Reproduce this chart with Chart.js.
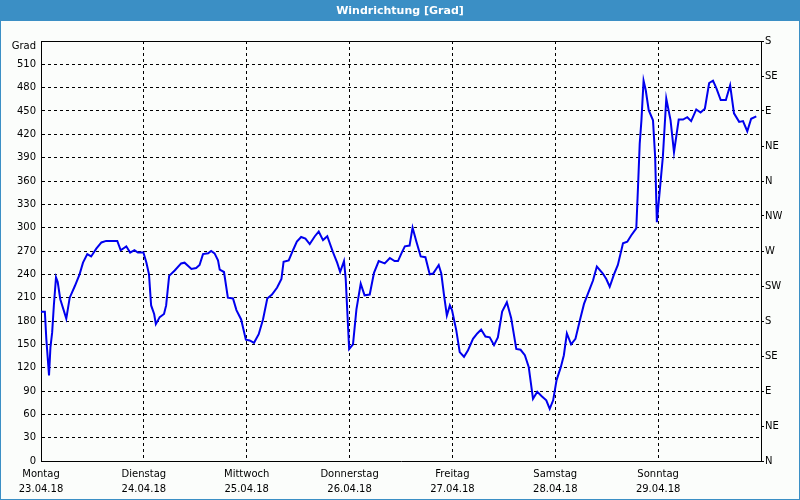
<!DOCTYPE html>
<html>
<head>
<meta charset="utf-8">
<script src="https://cdn.jsdelivr.net/npm/chart.js@4/dist/chart.umd.min.js"></script>
<style>
  html, body { margin: 0; padding: 0; background: #fbfdfb; }
  #wrap { width: 800px; height: 500px; position: relative; }
  canvas { display: block; }
</style>
</head>
<body>
<div id="wrap"><canvas id="c" width="800" height="500"></canvas></div>
<script>
// hours since Monday 23.04.18 00:00
const hours = [0,0.9,1.24,1.87,2.2,2.6,3.0,3.5,3.9,4.5,5.9,6.7,7.9,9.0,9.8,10.8,11.7,12.9,14.1,15.2,17.8,18.6,19.9,20.8,21.8,22.6,23.9,
  24.6,25.2,25.7,26.4,26.8,27.7,28.7,29.2,29.9,31.2,32.7,33.5,35.1,36.2,37.0,37.8,39.0,39.7,40.5,41.3,41.7,42.7,43.6,44.8,45.6,46.7,47.8,
  48.7,49.7,50.8,51.8,52.8,53.9,55.1,56.1,56.6,57.8,58.8,59.7,60.7,61.7,62.7,63.9,64.8,65.8,66.8,68.1,69.1,69.8,70.7,71.1,71.5,71.9,
  72.8,73.6,74.6,75.5,76.7,77.7,78.8,80.2,81.4,82.5,83.3,84.1,84.9,86.0,86.7,87.6,88.6,89.7,90.7,91.5,92.8,93.4,94.0,94.7,95.4,95.9,
  96.9,97.7,98.7,99.6,100.8,101.8,102.7,103.7,104.7,105.7,106.6,107.6,108.7,109.7,110.9,111.9,112.9,113.8,114.8,115.8,116.9,117.9,118.7,119.5,
  120.3,121.3,122.0,122.7,123.7,124.7,125.7,126.7,127.6,128.8,129.7,131.1,131.9,132.7,133.7,134.6,135.8,136.8,137.7,138.9,139.3,139.7,140.1,140.6,141.1,141.8,142.8,143.3,143.7,
  144.2,145.1,145.9,146.9,147.7,148.8,149.8,150.8,151.7,152.9,153.9,154.9,155.9,156.8,157.6,158.6,159.8,160.8,161.7,162.9,163.8,164.8,165.7,166.9];
const directionDeg = [192,192,157,110,146,165,200,236,230,208,183,210,225,240,255,266,263,273,281,283,283,271,276,268,271,268,268,
  255,240,200,189,176,185,189,200,238,245,254,255,247,248,252,266,267,270,267,258,246,243,210,209,194,182,156,
  155,152,163,182,209,214,223,234,256,258,271,282,288,286,279,289,295,284,289,269,255,243,257,234,189,144,
  150,195,228,213,214,242,257,254,261,257,257,267,276,277,300,282,263,262,240,241,252,241,215,187,200,194,
  168,140,134,142,157,164,169,160,159,149,159,192,204,184,144,143,136,121,80,89,83,78,67,78,
  104,121,136,164,150,157,180,202,215,232,250,241,234,224,240,252,280,282,290,299,352,408,438,489,477,451,438,391,307,
  337,391,466,438,397,439,439,442,437,452,448,453,486,489,479,464,464,483,447,436,437,424,440,443];

const dayNames = ['Montag','Dienstag','Mittwoch','Donnerstag','Freitag','Samstag','Sonntag'];
const dayDates = ['23.04.18','24.04.18','25.04.18','26.04.18','27.04.18','28.04.18','29.04.18'];
const compassLabels = ['N','NE','E','SE','S','SW','W','NW','N','NE','E','SE','S'];
const titleText = 'Windrichtung [Grad]';
const unitLabel = 'Grad';

const points = hours.map((h, i) => ({x: h, y: directionDeg[i]}));
const FONT = {family: 'DejaVu Sans', size: 10};

const framePlugin = {
  id: 'frame',
  beforeDraw(chart) {
    const ctx = chart.ctx;
    ctx.save();
    ctx.fillStyle = '#fbfdfb';
    ctx.fillRect(0, 0, 800, 500);
    ctx.fillStyle = '#3b8fc5';
    ctx.fillRect(0, 0, 800, 21);
    ctx.fillRect(0, 0, 1, 500);
    ctx.fillRect(799, 0, 1, 500);
    ctx.fillRect(0, 499, 800, 1);
    ctx.fillStyle = '#ffffff';
    ctx.font = 'bold 11px "DejaVu Sans"';
    ctx.textAlign = 'center';
    ctx.textBaseline = 'middle';
    ctx.fillText(titleText, 400, 11);
    ctx.restore();
  },
  afterDraw(chart) {
    const ctx = chart.ctx, a = chart.chartArea;
    ctx.save();
    ctx.strokeStyle = '#000';
    ctx.lineWidth = 1;
    ctx.beginPath();
    ctx.moveTo(a.left, Math.round(a.top) + 0.5);
    ctx.lineTo(a.right, Math.round(a.top) + 0.5);
    ctx.stroke();
    ctx.fillStyle = '#000';
    ctx.font = '10px "DejaVu Sans"';
    ctx.textAlign = 'right';
    ctx.textBaseline = 'middle';
    ctx.fillText(unitLabel, a.left - 5, a.top + 5);
    ctx.restore();
  }
};

new Chart(document.getElementById('c'), {
  type: 'line',
  data: {
    datasets: [{
      data: points,
      borderColor: '#0000ee',
      borderWidth: 2,
      pointRadius: 0,
      tension: 0,
      fill: false
    }]
  },
  options: {
    responsive: false,
    animation: false,
    events: [],
    layout: {padding: {top: 41, left: 0, right: 0, bottom: 0}},
    plugins: {legend: {display: false}, tooltip: {enabled: false}, title: {display: false}},
    scales: {
      x: {
        type: 'linear', min: 0, max: 168,
        afterFit(s) { s.height = 39; },
        afterBuildTicks(s) { s.ticks = [0,24,48,72,96,120,144,168].map(v => ({value: v})); },
        grid: {color: '#000', drawTicks: false, lineWidth: 1},
        border: {display: true, color: '#000', width: 1, dash: [3, 3]},
        ticks: {
          color: '#000', font: {family: 'DejaVu Sans', size: 10, lineHeight: 1.5}, padding: 6, maxRotation: 0, autoSkip: false,
          callback(v) { const i = Math.round(v / 24); return i < 7 ? [dayNames[i], dayDates[i]] : ''; }
        }
      },
      y: {
        position: 'left', min: 0, max: 540,
        afterFit(s) { s.width = 41; },
        afterBuildTicks(s) { const t = []; for (let v = 0; v <= 540; v += 30) t.push({value: v}); s.ticks = t; },
        grid: {color: '#000', drawTicks: false, lineWidth: 1},
        border: {display: true, color: '#000', width: 1, dash: [3, 3]},
        ticks: {color: '#000', font: FONT, padding: 5, callback(v) { return v === 540 ? '' : String(v); }}
      },
      y2: {
        position: 'right', min: 0, max: 540,
        afterFit(s) { s.width = 39; },
        afterBuildTicks(s) { s.ticks = compassLabels.map((_, i) => ({value: i * 45})); },
        grid: {drawOnChartArea: false, drawTicks: true, tickLength: 3, color: '#000'},
        border: {display: true, color: '#000', width: 1},
        ticks: {color: '#000', font: FONT, padding: 1, callback(v) { return compassLabels[Math.round(v / 45)]; }}
      }
    }
  },
  plugins: [framePlugin]
});
</script>
</body>
</html>
